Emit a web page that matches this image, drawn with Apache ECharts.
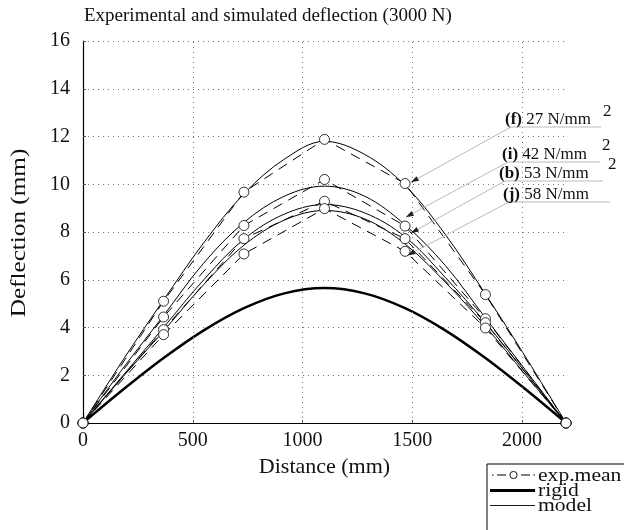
<!DOCTYPE html>
<html>
<head>
<meta charset="utf-8">
<script src="https://cdn.jsdelivr.net/npm/echarts@6/dist/echarts.min.js"></script>
<style>html,body{margin:0;padding:0;background:#fff}#c{width:624px;height:530px}</style>
</head>
<body>
<div id="c"></div>
<script>
// ---- data ----
var xExp = [0, 367, 733, 1100, 1467, 1833, 2200];
var expF = [0, 5.10, 9.67, 11.88, 10.03, 5.38, 0];
var expI = [0, 4.44, 8.27, 10.20, 8.25, 4.37, 0];
var expB = [0, 3.91, 7.72, 9.29, 7.72, 4.20, 0];
var expJ = [0, 3.70, 7.08, 8.98, 7.19, 3.98, 0];

var xModel = [0, 183, 367, 550, 733, 917, 1100, 1283, 1467, 1650, 1833, 2017, 2200];
var modelF = [0, 2.65, 5.15, 7.55, 9.60, 11.05, 11.80, 11.25, 9.95, 7.90, 5.40, 2.75, 0];
var modelI = [0, 2.30, 4.50, 6.70, 8.40, 9.50, 9.92, 9.50, 8.30, 6.60, 4.40, 2.20, 0];
var modelB = [0, 2.00, 4.00, 6.00, 7.70, 8.75, 9.15, 8.80, 7.80, 6.10, 4.20, 2.10, 0];
var modelJ = [0, 1.95, 3.85, 5.80, 7.45, 8.50, 8.90, 8.55, 7.50, 5.90, 4.05, 2.00, 0];
var rigid  = [0, 1.40, 2.72, 3.88, 4.81, 5.43, 5.65, 5.43, 4.81, 3.88, 2.72, 1.40, 0];

var xTickGrid = [500, 1000, 1500, 2000];

var labels = [
  {bold: '(f)', text: ' 27 N/mm', sup: '2'},
  {bold: '(i)', text: ' 42 N/mm', sup: '2'},
  {bold: '(b)', text: ' 53 N/mm', sup: '2'},
  {bold: '(j)', text: ' 58 N/mm', sup: ''}
];
var legendNames = ['exp.mean', 'rigid', 'model'];
var yAxisTitle = 'Deflection (mm)';
// arrow targets in data coordinates
var arrowTargets = [[1493, 10.08], [1470, 8.62], [1493, 7.95], [1478, 7.02]];

function pairs(xs, ys) { return xs.map(function (x, i) { return [x, ys[i]]; }); }

var FONT = '"Liberation Serif", "DejaVu Serif", serif';
var chart = echarts.init(document.getElementById('c'));

function expSeries(vals) {
  return {
    type: 'line', name: 'exp.mean', data: pairs(xExp, vals),
    symbol: 'circle', symbolSize: 10, showAllSymbol: true,
    lineStyle: {color: '#000', width: 1, type: [10, 7]},
    itemStyle: {color: '#fff', borderColor: '#000', borderWidth: 0.8},
    z: 3, animation: false
  };
}
function modelSeries(vals) {
  return {
    type: 'line', name: 'model', data: pairs(xModel, vals),
    smooth: 0.35, symbol: 'none',
    lineStyle: {color: '#000', width: 1}, itemStyle: {color: '#000'},
    z: 2, animation: false
  };
}

var series = [
  expSeries(expF), expSeries(expI), expSeries(expB), expSeries(expJ),
  {
    type: 'line', name: 'rigid', data: pairs(xModel, rigid), smooth: 0.35, symbol: 'none',
    lineStyle: {color: '#000', width: 2.5}, itemStyle: {color: '#000'}, z: 2, animation: false
  },
  modelSeries(modelF), modelSeries(modelI), modelSeries(modelB), modelSeries(modelJ),
  {
    type: 'line', data: [], silent: true, animation: false,
    markLine: {
      silent: true, symbol: 'none', animation: false, label: {show: false},
      lineStyle: {color: '#777', width: 1, type: [1, 4]},
      data: xTickGrid.map(function (v) { return {xAxis: v}; })
    }
  }
];

chart.setOption({
  animation: false,
  backgroundColor: '#fff',
  title: {
    text: 'Experimental and simulated deflection (3000 N)',
    left: 79, top: 2,
    textStyle: {fontFamily: FONT, fontSize: 19, fontWeight: 'normal', color: '#111'}
  },
  grid: {left: 83, right: 58, top: 41, bottom: 107, outerBoundsMode: 'none', containLabel: false},
  xAxis: {
    type: 'value', min: 0, max: 2200, interval: 500,
    name: 'Distance (mm)', nameLocation: 'middle', nameGap: 33,
    nameTextStyle: {fontFamily: FONT, fontSize: 22, color: '#111'},
    axisLine: {show: true, lineStyle: {color: '#000', width: 1.2}},
    axisTick: {show: true, inside: true, length: 3, lineStyle: {color: '#555'}},
    axisLabel: {fontFamily: FONT, fontSize: 20, color: '#111', margin: 8, showMaxLabel: false,
      formatter: function (v) { return String(v); }},
    splitLine: {show: false}
  },
  yAxis: {
    type: 'value', min: 0, max: 16, interval: 2,
    axisLine: {show: true, lineStyle: {color: '#000', width: 1.2}},
    axisTick: {show: true, inside: true, length: 3, lineStyle: {color: '#555'}},
    axisLabel: {fontFamily: FONT, fontSize: 20, color: '#111', margin: 13},
    splitLine: {show: true, lineStyle: {color: '#777', width: 1, type: [1, 4]}}
  },
  series: series
});

// annotations: label anchors (pixel) and leader lines to data targets
var anchors = [
  {x: 511, y: 127, end: 601, supX: 603, supY: 112},
  {x: 508, y: 162, end: 600, supX: 602, supY: 146},
  {x: 505, y: 181, end: 603, supX: 608, supY: 165},
  {x: 509, y: 202, end: 610, supX: 0, supY: 0}
];
var g = [];
anchors.forEach(function (a, i) {
  var tip = chart.convertToPixel({gridIndex: 0}, arrowTargets[i]);
  var dx = tip[0] - a.x, dy = tip[1] - a.y, len = Math.sqrt(dx * dx + dy * dy);
  var ux = dx / len, uy = dy / len, L = 8, W = 2.6;
  var bx = tip[0] - ux * L, by = tip[1] - uy * L;
  g.push({type: 'line', silent: true, z: 10,
    shape: {x1: a.x, y1: a.y, x2: bx, y2: by}, style: {stroke: '#bbb', lineWidth: 1}});
  g.push({type: 'polygon', silent: true, z: 10,
    shape: {points: [[tip[0], tip[1]], [bx - uy * W, by + ux * W], [bx + uy * W, by - ux * W]]},
    style: {fill: '#222'}});
  g.push({type: 'line', silent: true, z: 10,
    shape: {x1: a.x, y1: a.y, x2: a.end, y2: a.y}, style: {stroke: '#bbb', lineWidth: 1}});
  g.push({type: 'text', silent: true, z: 11, x: a.x - 6, y: a.y + 1,
    style: {
      text: '{b|' + labels[i].bold + '}{r|' + labels[i].text + '}',
      verticalAlign: 'bottom', align: 'left',
      rich: {
        b: {fontFamily: FONT, fontSize: 17, fontWeight: 'bold', fill: '#111'},
        r: {fontFamily: FONT, fontSize: 17, fill: '#111'}
      }
    }});
  if (labels[i].sup) {
    g.push({type: 'text', silent: true, z: 11, x: a.supX, y: a.supY,
      style: {text: labels[i].sup, fontFamily: FONT, fontSize: 17, fill: '#111',
        align: 'left', verticalAlign: 'middle'}});
  }
});

// y axis title (rotated, stretched along its length)
g.push({type: 'text', silent: true, z: 5, x: 19, y: 233, rotation: Math.PI / 2, scaleX: 1.2,
  style: {text: yAxisTitle, fontFamily: FONT, fontSize: 21, fill: '#111', align: 'center', verticalAlign: 'middle'}});

// legend box (drawn as graphic)
var lgX = 487, lgY = 464, rowY = [475, 490.5, 505.5], icoL = 492, icoR = 535, txtX = 538;
g.push({type: 'rect', silent: true, z: 20, shape: {x: lgX, y: lgY, width: 200, height: 100},
  style: {fill: '#fff', stroke: '#000', lineWidth: 1}});
// exp.mean icon: dot, dash, circle, dash, dot
g.push({type: 'line', silent: true, z: 21, shape: {x1: icoL, y1: rowY[0], x2: icoL + 1.5, y2: rowY[0]}, style: {stroke: '#000', lineWidth: 1}});
g.push({type: 'line', silent: true, z: 21, shape: {x1: 497, y1: rowY[0], x2: 506, y2: rowY[0]}, style: {stroke: '#000', lineWidth: 1}});
g.push({type: 'circle', silent: true, z: 21, shape: {cx: 513.5, cy: rowY[0], r: 3.6}, style: {fill: '#fff', stroke: '#000', lineWidth: 0.9}});
g.push({type: 'line', silent: true, z: 21, shape: {x1: 521, y1: rowY[0], x2: 530, y2: rowY[0]}, style: {stroke: '#000', lineWidth: 1}});
g.push({type: 'line', silent: true, z: 21, shape: {x1: 533.5, y1: rowY[0], x2: icoR, y2: rowY[0]}, style: {stroke: '#000', lineWidth: 1}});
g.push({type: 'line', silent: true, z: 21, shape: {x1: icoL - 2, y1: rowY[1], x2: icoR, y2: rowY[1]}, style: {stroke: '#000', lineWidth: 2.8}});
g.push({type: 'line', silent: true, z: 21, shape: {x1: icoL - 2, y1: rowY[2], x2: icoR, y2: rowY[2]}, style: {stroke: '#000', lineWidth: 0.9}});
legendNames.forEach(function (n, i) {
  g.push({type: 'text', silent: true, z: 21, x: txtX, y: rowY[i] + 1, scaleX: 1.2,
    style: {text: n, fontFamily: FONT, fontSize: 18, fill: '#111', align: 'left', verticalAlign: 'middle'}});
});
chart.setOption({graphic: g});
</script>
</body>
</html>
